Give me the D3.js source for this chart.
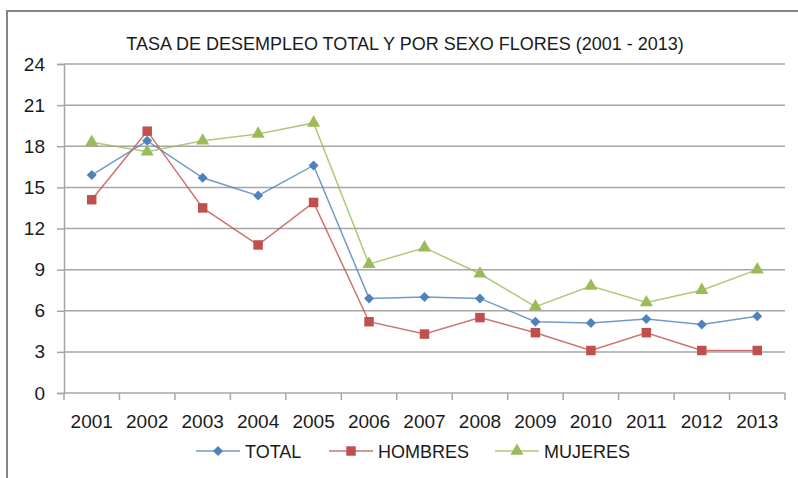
<!DOCTYPE html>
<html>
<head>
<meta charset="utf-8">
<script src="https://cdn.jsdelivr.net/npm/d3@7"></script>
<style>
  body { margin: 0; background: #fff; }
  svg text { font-family: "Liberation Sans", Arial, sans-serif; fill: #1a1a1a; }
</style>
</head>
<body>
<svg id="chart" width="798" height="478"></svg>
<script>
var YEARS = ["2001", "2002", "2003", "2004", "2005", "2006", "2007", "2008", "2009", "2010", "2011", "2012", "2013"];
var TOTAL = [15.9, 18.4, 15.7, 14.4, 16.6, 6.9, 7.0, 6.9, 5.2, 5.1, 5.4, 5.0, 5.6];
var HOMBRES = [14.1, 19.1, 13.5, 10.8, 13.9, 5.2, 4.3, 5.5, 4.4, 3.1, 4.4, 3.1, 3.1];
var MUJERES = [18.3, 17.6, 18.4, 18.9, 19.7, 9.4, 10.6, 8.7, 6.3, 7.8, 6.6, 7.5, 9.0];
var Y_TICKS = [0, 3, 6, 9, 12, 15, 18, 21, 24];
var TITLE = "TASA DE DESEMPLEO TOTAL Y POR SEXO FLORES (2001 - 2013)";

// diamond = square turned 45deg, so it is as wide as it is tall
var series = [
  { name: "TOTAL", values: TOTAL, color: "#4F81BD", marker: d3.symbolSquare, size: 50, rot: 45 },
  { name: "HOMBRES", values: HOMBRES, color: "#C0504D", marker: d3.symbolSquare, size: 90, rot: 0 },
  { name: "MUJERES", values: MUJERES, color: "#9BBB59", marker: d3.symbolTriangle, size: 75, rot: 0 }
];

var svg = d3.select("#chart");

// outer chart border (runs off the right and bottom edges)
svg.append("rect")
  .attr("x", 7).attr("y", 11)
  .attr("width", 820).attr("height", 500)
  .attr("fill", "none")
  .attr("stroke", "#868686")
  .attr("stroke-width", 2);

var x = d3.scaleBand().domain(YEARS).range([64, 785]);
var y = d3.scaleLinear().domain([0, 24]).range([393, 64]);

svg.append("text")
  .attr("x", 405).attr("y", 50)
  .attr("text-anchor", "middle")
  .style("font-size", "18px")
  .text(TITLE);

// gridlines
svg.append("g").selectAll("line")
  .data(Y_TICKS)
  .enter().append("line")
  .attr("x1", 64).attr("x2", 785)
  .attr("y1", d => y(d)).attr("y2", d => y(d))
  .attr("stroke", "#a6a6a6")
  .attr("stroke-width", 1.5);

// y axis
var yAxis = svg.append("g")
  .attr("transform", "translate(64,0)")
  .call(d3.axisLeft(y).tickValues(Y_TICKS).tickSize(7).tickPadding(12));
yAxis.select(".domain").attr("stroke", "#a6a6a6").attr("stroke-width", 1.5);
yAxis.selectAll(".tick line").attr("stroke", "#a6a6a6").attr("stroke-width", 1.5);
yAxis.selectAll("text").style("font-size", "19px").style("font-family", "Liberation Sans, Arial, sans-serif").attr("fill", "#1a1a1a");

// x axis labels
var xAxis = svg.append("g")
  .attr("transform", "translate(0,393)")
  .call(d3.axisBottom(x).tickSize(0).tickPadding(22));
xAxis.select(".domain").remove();
xAxis.selectAll("text").style("font-size", "19px").style("font-family", "Liberation Sans, Arial, sans-serif").attr("fill", "#1a1a1a");

// x tick marks between categories
var bounds = YEARS.map(d => x(d)).concat([x.range()[1]]);
svg.append("g").selectAll("line")
  .data(bounds)
  .enter().append("line")
  .attr("x1", d => d).attr("x2", d => d)
  .attr("y1", 393).attr("y2", 400)
  .attr("stroke", "#a6a6a6")
  .attr("stroke-width", 1.5);

var line = d3.line()
  .x((d, i) => x(YEARS[i]) + x.bandwidth() / 2)
  .y(d => y(d));

series.forEach(function(s) {
  svg.append("path")
    .attr("d", line(s.values))
    .attr("fill", "none")
    .attr("stroke", s.color)
    .attr("stroke-opacity", 0.8)
    .attr("stroke-width", 1.5);
});

series.forEach(function(s) {
  svg.append("g").selectAll("path")
    .data(s.values)
    .enter().append("path")
    .attr("d", d3.symbol().type(s.marker).size(s.size))
    .attr("transform", (d, i) => "translate(" + (x(YEARS[i]) + x.bandwidth() / 2) + "," + y(d) + ") rotate(" + s.rot + ")")
    .attr("fill", s.color);
});

// legend
var legendX = [196, 329, 495];
var legend = svg.append("g").selectAll("g")
  .data(series)
  .enter().append("g")
  .attr("transform", (d, i) => "translate(" + legendX[i] + ",451)");
legend.append("line")
  .attr("x1", 0).attr("x2", 44)
  .attr("stroke", d => d.color)
  .attr("stroke-opacity", 0.8)
  .attr("stroke-width", 1.5);
legend.append("path")
  .attr("d", d => d3.symbol().type(d.marker).size(d.size)())
  .attr("transform", d => "translate(22,0) rotate(" + d.rot + ")")
  .attr("fill", d => d.color);
legend.append("text")
  .attr("x", 49).attr("y", 7)
  .style("font-size", "18px")
  .text(d => d.name);
</script>
</body>
</html>
